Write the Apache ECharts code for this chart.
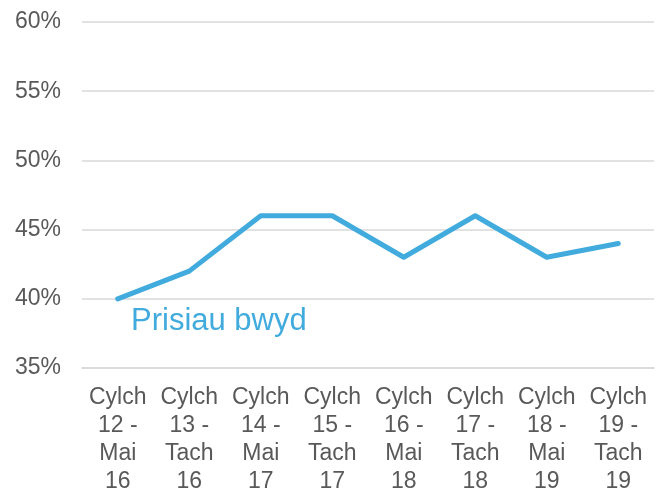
<!DOCTYPE html>
<html>
<head>
<meta charset="utf-8">
<script src="https://cdn.jsdelivr.net/npm/echarts@6/dist/echarts.min.js"></script>
<style>
  html, body { margin: 0; padding: 0; background: #fff; }
  #chart { width: 662px; height: 491px; }
</style>
</head>
<body>
<div id="chart"></div>
<script>
// categories (survey waves) and values
var categories = [
  'Cylch\n12 -\nMai\n16', 'Cylch\n13 -\nTach\n16', 'Cylch\n14 -\nMai\n17', 'Cylch\n15 -\nTach\n17',
  'Cylch\n16 -\nMai\n18', 'Cylch\n17 -\nTach\n18', 'Cylch\n18 -\nMai\n19', 'Cylch\n19 -\nTach\n19'
];
var foodPrices = [40, 42, 46, 46, 43, 46, 43, 44];
var seriesName = 'Prisiau bwyd';

var chart = echarts.init(document.getElementById('chart'));

var font = 'Liberation Sans, Arial, sans-serif';

var option = {
  animation: false,
  textStyle: { fontFamily: font },
  grid: { left: 82, right: 8, top: 22, bottom: 123, containLabel: false, outerBoundsMode: 'none' },
  xAxis: {
    type: 'category',
    data: categories,
    boundaryGap: true,
    axisLine: { show: true, lineStyle: { color: '#d9d9d9', width: 1.5 } },
    axisTick: { show: false },
    axisLabel: {
      interval: 0,
      color: '#595959',
      fontFamily: font,
      fontSize: 23,
      lineHeight: 28,
      margin: 16
    }
  },
  yAxis: {
    type: 'value',
    min: 35,
    max: 60,
    interval: 5,
    axisLine: { show: false },
    axisTick: { show: false },
    splitLine: { lineStyle: { color: '#d9d9d9', width: 1.5 } },
    axisLabel: {
      color: '#595959',
      fontFamily: font,
      fontSize: 23,
      margin: 21,
      formatter: '{value}%'
    }
  },
  series: [{
    name: seriesName,
    type: 'line',
    data: foodPrices,
    symbol: 'none',
    lineStyle: { color: '#41abde', width: 5, cap: 'round', join: 'round' }
  }],
  graphic: [{
    type: 'text',
    x: 131,
    y: 321,
    style: {
      text: seriesName,
      fill: '#41abde',
      fontSize: 31,
      fontFamily: font,
      verticalAlign: 'middle'
    }
  }]
};

chart.setOption(option);
</script>
</body>
</html>
